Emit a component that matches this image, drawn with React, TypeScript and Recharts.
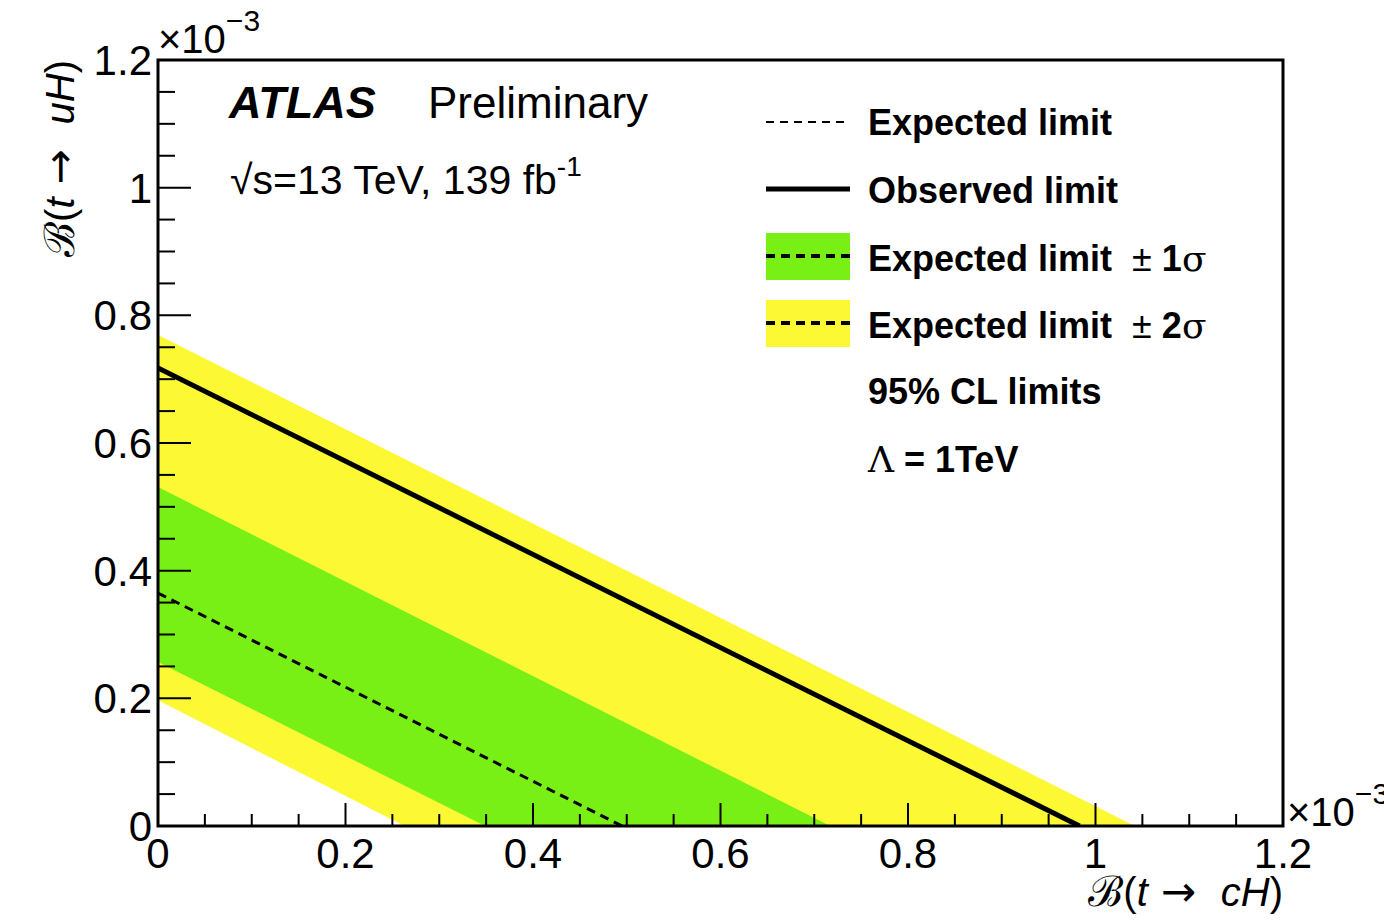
import React from 'react';
import { ComposedChart, Area, Line, XAxis, YAxis } from 'recharts';

// band edges, in units of 1e-3
const yellowUpper = [{ x: 0, y: 0.769 }, { x: 1.042, y: 0 }];
const greenUpper = [{ x: 0, y: 0.531 }, { x: 0.717, y: 0 }];
const greenLower = [{ x: 0, y: 0.257 }, { x: 0.349, y: 0 }];
const yellowLower = [{ x: 0, y: 0.197 }, { x: 0.263, y: 0 }];
const expected = [{ x: 0, y: 0.365 }, { x: 0.495, y: 0 }];
const observed = [{ x: 0, y: 0.7175 }, { x: 0.983, y: 0 }];

const ticks = [0, 0.05, 0.1, 0.15, 0.2, 0.25, 0.3, 0.35, 0.4, 0.45, 0.5, 0.55, 0.6, 0.65, 0.7, 0.75, 0.8, 0.85, 0.9, 0.95, 1, 1.05, 1.1, 1.15, 1.2];

const W = 1384;
const H = 922;
const LEFT = 158;
const TOP = 60;
const RIGHT = 1283;
const BOTTOM = 826;

const YELLOW = '#fcf834';
const GREEN = '#78f016';
const FONT = '"Liberation Sans", Arial, Helvetica, sans-serif';
const SYM = '"DejaVu Sans", sans-serif';
const SERIF = '"DejaVu Serif", serif';

const isMajor = (v: number) => Math.abs(v * 5 - Math.round(v * 5)) < 1e-6;
const fmt = (v: number) => String(Math.round(v * 10) / 10);

const YTick = ({ y, payload }: any) => {
  const major = isMajor(payload.value);
  return (
    <g>
      <line x1={LEFT} x2={LEFT + (major ? 33 : 17)} y1={y} y2={y} stroke="#000" strokeWidth={2} />
      {major && (
        <text x={LEFT - 6} y={y} dy={15} textAnchor="end" fontSize={42} fontFamily={FONT} fill="#000">
          {fmt(payload.value)}
        </text>
      )}
    </g>
  );
};

const XTick = ({ x, payload }: any) => {
  const major = isMajor(payload.value);
  return (
    <g>
      <line x1={x} x2={x} y1={BOTTOM} y2={BOTTOM - (major ? 23 : 12)} stroke="#000" strokeWidth={2} />
      {major && (
        <text x={x} y={BOTTOM + 42} textAnchor="middle" fontSize={42} fontFamily={FONT} fill="#000">
          {fmt(payload.value)}
        </text>
      )}
    </g>
  );
};

const AxisTitle = ({ q }: { q: string }) => (
  <>
    <tspan fontFamily={SERIF} fontSize={42}>ℬ</tspan>
    <tspan fontFamily={FONT}>(</tspan>
    <tspan fontFamily={FONT} fontStyle="italic">t</tspan>
    <tspan fontFamily={SYM} fontSize={42}>{' → '}</tspan>
    <tspan fontFamily={FONT} fontStyle="italic">{' ' + q}</tspan>
    <tspan fontFamily={FONT}>)</tspan>
  </>
);

const legendText = { fontSize: 36, fontWeight: 700, fontFamily: FONT, fill: '#000', style: { whiteSpace: 'pre' } } as const;

export default function App() {
  return (
    <div style={{ position: 'absolute', left: 0, top: 0, width: W, height: H, background: '#fff', overflow: 'hidden' }}>
      <ComposedChart width={W} height={H} margin={{ top: TOP, right: W - RIGHT, bottom: 0, left: 0 }}>
        <Area data={yellowUpper} dataKey="y" type="linear" stroke="none" fill={YELLOW} fillOpacity={1} isAnimationActive={false} />
        <Area data={greenUpper} dataKey="y" type="linear" stroke="none" fill={GREEN} fillOpacity={1} isAnimationActive={false} />
        <Area data={greenLower} dataKey="y" type="linear" stroke="none" fill={YELLOW} fillOpacity={1} isAnimationActive={false} />
        <Area data={yellowLower} dataKey="y" type="linear" stroke="none" fill="#fff" fillOpacity={1} isAnimationActive={false} />
        <Line data={expected} dataKey="y" type="linear" stroke="#000" strokeWidth={3} strokeDasharray="9 6" dot={false} isAnimationActive={false} />
        <Line data={observed} dataKey="y" type="linear" stroke="#000" strokeWidth={5} dot={false} isAnimationActive={false} />
        <XAxis
          type="number"
          dataKey="x"
          domain={[0, 1.2]}
          ticks={ticks}
          interval={0}
          height={H - BOTTOM}
          axisLine={false}
          tickLine={false}
          tick={<XTick />}
          allowDataOverflow
        />
        <YAxis
          type="number"
          dataKey="y"
          domain={[0, 1.2]}
          ticks={ticks}
          interval={0}
          width={LEFT}
          axisLine={false}
          tickLine={false}
          tick={<YTick />}
          allowDataOverflow
        />
      </ComposedChart>

      <svg width={W} height={H} style={{ position: 'absolute', left: 0, top: 0, pointerEvents: 'none' }}>
        <rect x={LEFT} y={TOP} width={RIGHT - LEFT} height={BOTTOM - TOP} fill="none" stroke="#000" strokeWidth={3} />

        {/* exponent labels */}
        <text x={LEFT} y={53} fontSize={40} fontFamily={FONT}>
          ×10<tspan dy={-22} fontSize={30}>−3</tspan>
        </text>
        <text x={RIGHT + 4} y={826} fontSize={40} fontFamily={FONT}>
          ×10<tspan dy={-22} fontSize={30}>−3</tspan>
        </text>

        {/* axis titles */}
        <text transform="rotate(-90)" x={-TOP} y={74} textAnchor="end" fontSize={40} fontFamily={FONT} style={{ whiteSpace: 'pre' }}>
          <AxisTitle q="uH" />
        </text>
        <text x={RIGHT} y={906} textAnchor="end" fontSize={40} fontFamily={FONT} style={{ whiteSpace: 'pre' }}>
          <AxisTitle q="cH" />
        </text>

        {/* ATLAS label */}
        <text x={229} y={118} fontSize={45} fontFamily={FONT} fontWeight={700} fontStyle="italic">ATLAS</text>
        <text x={428} y={118} fontSize={44} fontFamily={FONT}>Preliminary</text>
        <text x={230} y={194} fontSize={41} fontFamily={FONT}>
          √s=13 TeV, 139 fb<tspan dy={-18} fontSize={28}>-1</tspan>
        </text>

        {/* legend */}
        <line x1={766} x2={850} y1={122} y2={122} stroke="#000" strokeWidth={2} strokeDasharray="8 6" />
        <text x={868} y={135} {...legendText}>Expected limit</text>

        <line x1={766} x2={850} y1={189} y2={189} stroke="#000" strokeWidth={5} />
        <text x={868} y={203} {...legendText}>Observed limit</text>

        <rect x={766} y={233} width={84} height={47} fill={GREEN} />
        <line x1={766} x2={850} y1={256} y2={256} stroke="#000" strokeWidth={4} strokeDasharray="9 6" />
        <text x={868} y={271} {...legendText}>{'Expected limit  '}<tspan fontWeight={400}>±</tspan>{' 1'}<tspan fontFamily={SERIF} fontWeight={400}>σ</tspan></text>

        <rect x={766} y={300} width={84} height={47} fill={YELLOW} />
        <line x1={766} x2={850} y1={323} y2={323} stroke="#000" strokeWidth={4} strokeDasharray="9 6" />
        <text x={868} y={338} {...legendText}>{'Expected limit  '}<tspan fontWeight={400}>±</tspan>{' 2'}<tspan fontFamily={SERIF} fontWeight={400}>σ</tspan></text>

        <text x={868} y={404} {...legendText}>95% CL limits</text>
        <text x={868} y={472} {...legendText}><tspan fontFamily={SERIF} fontWeight={400}>Λ</tspan> = 1TeV</text>
      </svg>
    </div>
  );
}
